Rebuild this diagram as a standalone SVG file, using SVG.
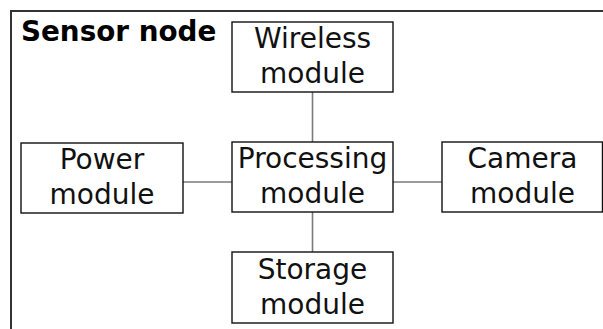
<svg xmlns="http://www.w3.org/2000/svg" width="603" height="329" viewBox="0 0 603 329">
  <style>
    .frame { fill: none; stroke: #333; stroke-width: 2; }
    .box { fill: #fff; stroke: #111; stroke-width: 1.4; }
    .edge { stroke: #7a7a7a; stroke-width: 1.6; fill: none; }
    .lbl { font-family: "DejaVu Sans", sans-serif; font-size: 28px; fill: #111; text-anchor: middle; }
    .title { font-family: "DejaVu Sans", sans-serif; font-size: 27.8px; font-weight: bold; fill: #000; }
  </style>
  <rect width="603" height="329" fill="#fff"/>
  <g id="sensor-node">
    <rect class="frame" x="11" y="11" width="620" height="340"/>
    <text class="title" x="21" y="40.5">Sensor node</text>
  </g>
  <g id="connectors">
    <line class="edge" x1="312.5" y1="92" x2="312.5" y2="142"/>
    <line class="edge" x1="312.5" y1="212" x2="312.5" y2="252"/>
    <line class="edge" x1="183" y1="182" x2="232" y2="182"/>
    <line class="edge" x1="393" y1="182" x2="442" y2="182"/>
  </g>
  <g id="wireless">
    <rect class="box" x="232" y="22" width="161" height="70"/>
    <text class="lbl" x="312.5" y="47.5">Wireless</text>
    <text class="lbl" x="312.5" y="83">module</text>
  </g>
  <g id="processing">
    <rect class="box" x="232" y="142" width="161" height="70"/>
    <text class="lbl" x="312.5" y="168">Processing</text>
    <text class="lbl" x="312.5" y="203">module</text>
  </g>
  <g id="power">
    <rect class="box" x="21" y="143" width="162" height="70"/>
    <text class="lbl" x="102" y="169">Power</text>
    <text class="lbl" x="102" y="204">module</text>
  </g>
  <g id="camera">
    <rect class="box" x="442" y="142" width="160.5" height="70"/>
    <text class="lbl" x="522.5" y="168">Camera</text>
    <text class="lbl" x="522.5" y="203">module</text>
  </g>
  <g id="storage">
    <rect class="box" x="232" y="252" width="161" height="71"/>
    <text class="lbl" x="312.5" y="279">Storage</text>
    <text class="lbl" x="312.5" y="314">module</text>
  </g>
</svg>
